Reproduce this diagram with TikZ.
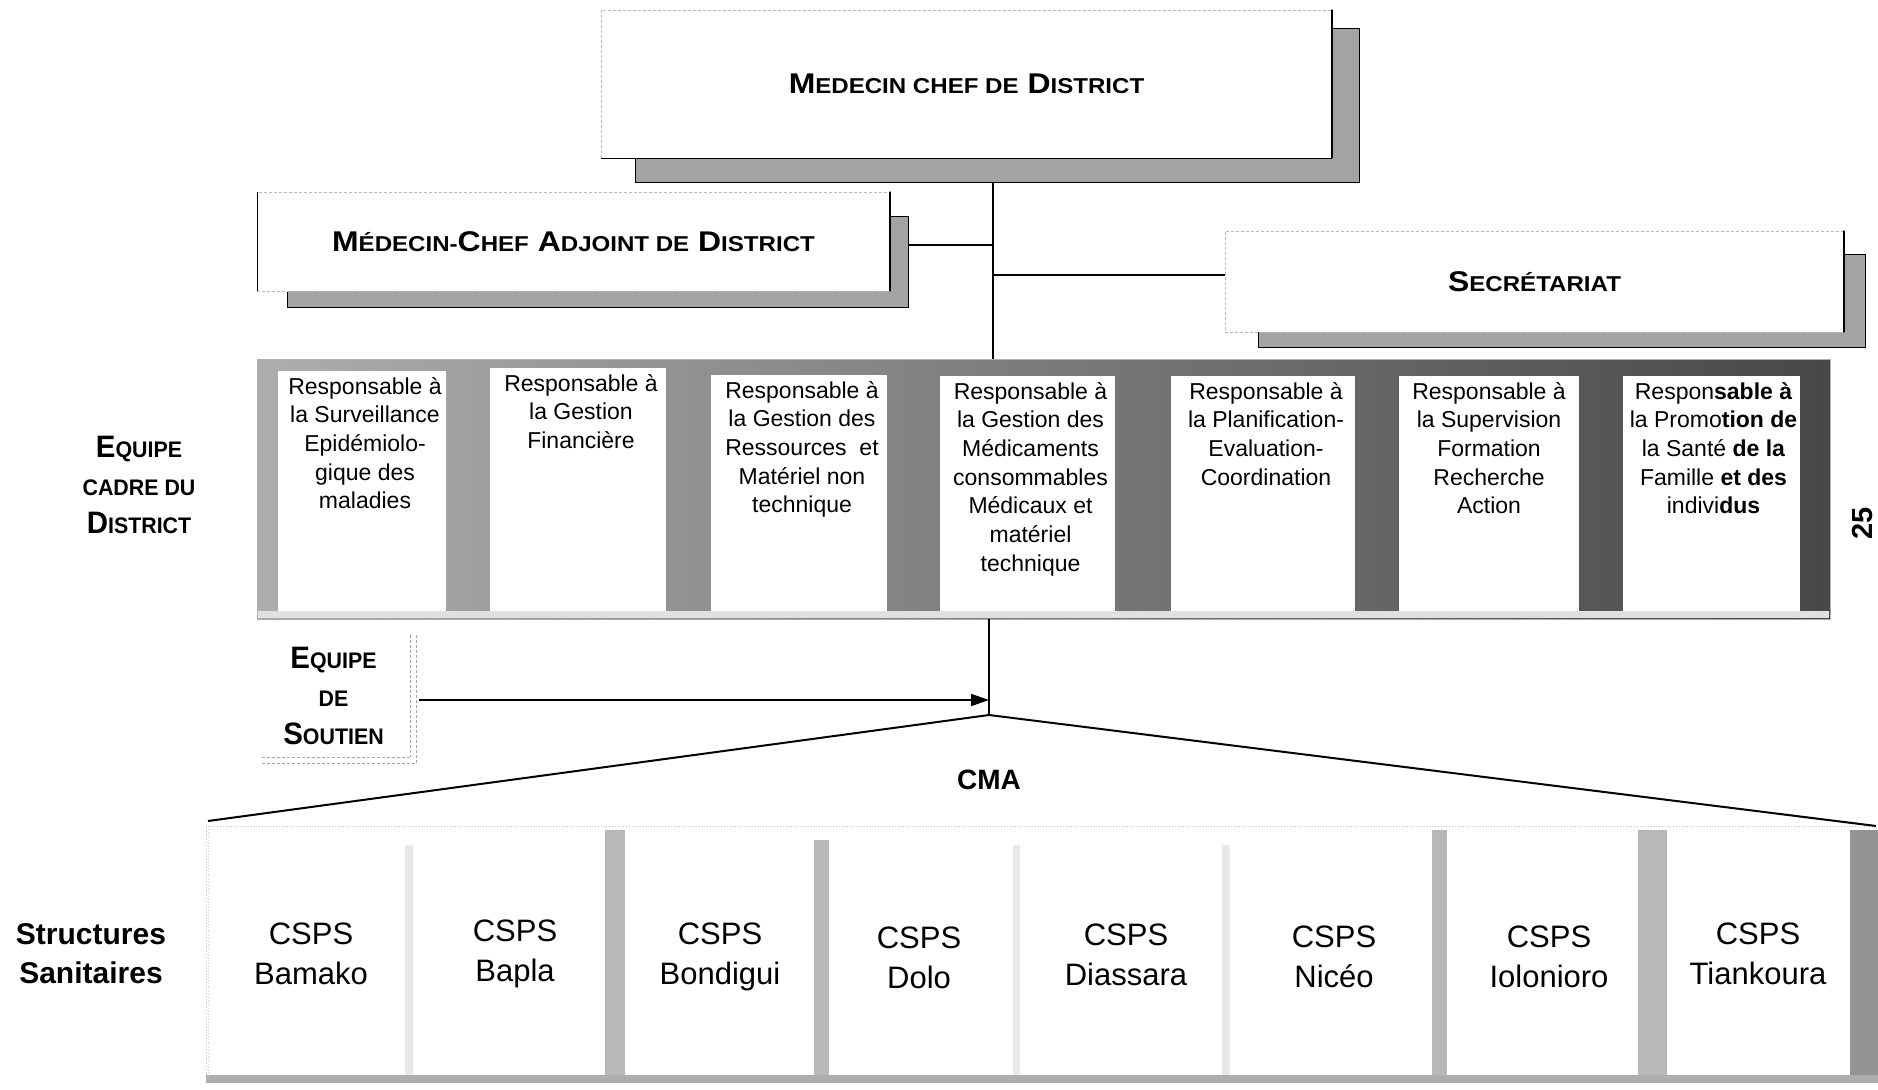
\documentclass[tikz,border=0pt]{standalone}
\usepackage{fontspec}
\setmainfont{Liberation Sans}
\newfontfamily\hfont[FakeStretch=1.12]{Liberation Sans Bold}
\newfontfamily\sidefont[FakeStretch=0.95]{Liberation Sans Bold}
\usetikzlibrary{arrows.meta,calc}

% capital letter followed by reduced capitals
\newcommand\SC[2]{#1{\fontsize{\scs}{\scl}\selectfont #2}}

\tikzset{
  shadowbox/.style={draw=black, line width=0.8pt, fill=black!36, inner sep=0pt, outer sep=0pt},
  whitebox/.style={fill=white, draw=gray!55, densely dashed, line width=0.6pt, inner sep=0pt, outer sep=0pt},
  blackedge/.style={line width=1.2pt, line cap=round},
  link/.style={line width=1.5pt},
  fan/.style={line width=2pt},
  head/.style={font={\hfont\fontsize{28.5}{34}\selectfont\def\scs{21.5}\def\scl{34}}},
  sidehead/.style={font={\sidefont\fontsize{31}{38}\selectfont\def\scs{22.5}\def\scl{38}}, align=center, inner sep=0pt},
  colbox/.style={fill=white, draw=none, inner sep=0pt, outer sep=0pt},
  coltext/.style={font={\fontsize{23}{28.7}\selectfont}, align=center, inner sep=0pt, anchor=north},
  cs/.style={font={\fontsize{31}{40}\selectfont}, align=center, inner sep=0pt},
  strongdiv/.style={fill=black!28},
  faintdiv/.style={fill=black!9},
}

\begin{document}
\begin{tikzpicture}[x=1pt, y=-1pt]
\useasboundingbox (0,0) rectangle (1878,1089);

% ---------- top management boxes ----------
\node[shadowbox, minimum width=724, minimum height=154] (mcds) at (997,105) {};
\node[whitebox, minimum width=731, minimum height=148, head] (mcd) at (966.5,84)
  {\SC{M}{EDECIN CHEF DE} \SC{D}{ISTRICT}};
\draw[blackedge] (mcd.north east) -- (mcd.south east);
\draw[line width=0.8pt] (mcd.south west) -- (mcd.south east);

\node[shadowbox, minimum width=621, minimum height=91] (adjs) at (597.5,261.5) {};
\node[whitebox, minimum width=633, minimum height=99, head] (adj) at (573.5,241.5)
  {\SC{M}{ÉDECIN-}\SC{C}{HEF} \SC{A}{DJOINT DE} \SC{D}{ISTRICT}};
\draw[blackedge] (adj.north east) -- (adj.south east);
\draw[line width=0.8pt] (adj.north west) -- (adj.south west);

\node[shadowbox, minimum width=607, minimum height=93] (secs) at (1561.5,300.5) {};
\node[whitebox, minimum width=619, minimum height=101, head] (sec) at (1534.5,281.5)
  {\SC{S}{ECRÉTARIAT}};
\draw[blackedge] (sec.north east) -- (sec.south east);

% ---------- district team band ----------
\node[draw=gray!60, line width=0.8pt, left color=black!32, right color=black!72,
      minimum width=1573, minimum height=260, inner sep=0pt, outer sep=0pt] (ecd) at (1043.5,489) {};
\fill[black!12] (258,611) rectangle (1829,618);
\draw[gray!70, densely dashed, line width=0.8pt] (ecd.south west) -- (ecd.south east);

\node[colbox, minimum width=168, minimum height=240] (c1) at (362,491) {};
\node[colbox, minimum width=176, minimum height=243] (c2) at (578,489.5) {};
\node[colbox, minimum width=176, minimum height=236] (c3) at (799,493) {};
\node[colbox, minimum width=175, minimum height=235] (c4) at (1027.5,493.5) {};
\node[colbox, minimum width=184, minimum height=235] (c5) at (1263,493.5) {};
\node[colbox, minimum width=180, minimum height=235] (c6) at (1489,493.5) {};
\node[colbox, minimum width=177, minimum height=235] (c7) at (1711.5,493.5) {};

\node[coltext] (t1) at ($(c1.north)+(3,6)$)
  {Responsable à\\la Surveillance\\Epidémiolo-\\gique des\\maladies};
\node[coltext] (t2) at ($(c2.north)+(3,6)$)
  {Responsable à\\la Gestion\\Financière};
\node[coltext] (t3) at ($(c3.north)+(3,6)$)
  {Responsable à\\la Gestion des\\Ressources\ \ et\\Matériel non\\technique};
\node[coltext] (t4) at ($(c4.north)+(3,6)$)
  {Responsable à\\la Gestion des\\Médicaments\\consommables\\Médicaux et\\matériel\\technique};
\node[coltext] (t5) at ($(c5.north)+(3,6)$)
  {Responsable à\\la Planification-\\Evaluation-\\Coordination};
\node[coltext] (t6) at ($(c6.north)+(0,6)$)
  {Responsable à\\la Supervision\\Formation\\Recherche\\Action};
\node[coltext] (t7) at ($(c7.north)+(2,6)$)
  {Respon\textbf{sable à}\\la Promo\textbf{tion de}\\la Santé \textbf{de la}\\Famille \textbf{et des}\\indivi\textbf{dus}};

\node[sidehead] (ecdlab) at (139,485) {\SC{E}{QUIPE}\\{\fontsize{\scs}{\scl}\selectfont CADRE DU}\\\SC{D}{ISTRICT}};

\node[font={\bfseries\fontsize{29}{29}\selectfont}, rotate=90, inner sep=0pt] (page) at (1862,523) {25};

% ---------- connectors of the management level ----------
\coordinate (spine) at (993,0);
\coordinate (jA) at (993,245);
\coordinate (jS) at (993,275);
\draw[link] (mcds.south -| spine) -- (ecd.north -| spine);
\draw[link] (adjs.east |- jA) -- (jA);
\draw[link] (jS) -- (sec.west |- jS);

% ---------- support team ----------
\node[sidehead, minimum width=153, minimum height=122, outer sep=0pt] (sout) at (333.5,696)
  {\SC{E}{QUIPE}\\{\fontsize{\scs}{\scl}\selectfont DE}\\\SC{S}{OUTIEN}};
\draw[gray!70, densely dashed, line width=0.8pt] (sout.north east) -- (sout.south east);
\draw[gray!70, densely dashed, line width=0.8pt] ([xshift=6pt]sout.north east) -- ([xshift=6pt,yshift=-6pt]sout.south east);
\draw[gray!70, densely dashed, line width=0.8pt] ([xshift=5pt]sout.south west) -- (sout.south east);
\draw[gray!70, densely dashed, line width=0.8pt] ([xshift=5pt,yshift=-6pt]sout.south west) -- ([xshift=6pt,yshift=-6pt]sout.south east);

% ---------- hub towards the health centres ----------
\coordinate (hub) at (989,715);
\coordinate (arr) at (989,700);
\draw[link] (ecd.south -| hub) -- (hub);
\draw[link, -{Triangle[length=18pt,width=12pt]}] ([xshift=9pt]sout.east |- arr) -- (arr);

\node[font={\bfseries\fontsize{28}{28}\selectfont}, inner sep=0pt] (cma) at (989,780) {CMA};

% ---------- health structures band ----------
\node[draw=gray!45, dotted, line width=0.8pt, minimum width=1670, minimum height=256,
      inner sep=0pt, outer sep=0pt] (ss) at (1041,954) {};
\fill[faintdiv] (405,845) rectangle (413,1075);
\fill[strongdiv] (605,830) rectangle (625,1078);
\fill[strongdiv] (814,840) rectangle (829,1078);
\fill[faintdiv] (1013,845) rectangle (1020,1075);
\fill[faintdiv] (1222,845) rectangle (1230,1075);
\fill[strongdiv] (1432,830) rectangle (1447,1078);
\fill[strongdiv] (1638,830) rectangle (1667,1078);
\fill[black!42] (1850,830) rectangle (1878,1082);
\fill[black!32] (206,1075) rectangle (1878,1083);
\draw[gray!40, dotted, line width=0.8pt] (208,826) -- (208,1080);

\coordinate (ssL) at (208,821);
\coordinate (ssR) at (1876,826);
\draw[fan] (hub) -- (ssL);
\draw[fan] (hub) -- (ssR);

\node[cs] (bamako) at (311,954) {CSPS\\Bamako};
\node[cs] (bapla) at (515,954) {CSPS\\Bapla};
\node[cs] (bondigui) at (720,957) {CSPS\\Bondigui};
\node[cs] (dolo) at (919,958) {CSPS\\Dolo};
\node[cs] (diassara) at (1126,955) {CSPS\\Diassara};
\node[cs] (niceo) at (1334,957) {CSPS\\Nicéo};
\node[cs] (iolonioro) at (1549,957) {CSPS\\Iolonioro};
\node[cs] (tiankoura) at (1758,954) {CSPS\\Tiankoura};

\node[font={\bfseries\fontsize{30}{39}\selectfont}, align=center, inner sep=0pt] (sslab) at (91,954)
  {Structures\\Sanitaires};
\end{tikzpicture}
\end{document}
